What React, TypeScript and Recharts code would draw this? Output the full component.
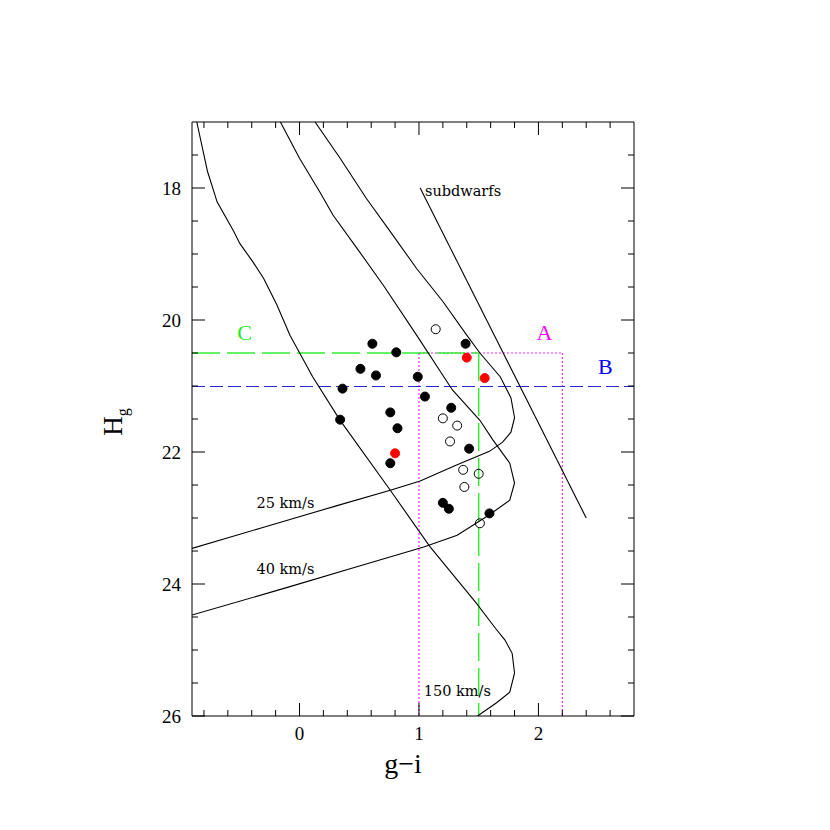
import {
  ComposedChart,
  Line,
  ReferenceLine,
  Scatter,
  XAxis,
  YAxis,
} from "recharts"

// model curves (g-i, H_g)
const curve150 = [
  { x: -0.86, y: 17.0 }, { x: -0.77, y: 17.75 }, { x: -0.69, y: 18.21 },
  { x: -0.55, y: 18.66 }, { x: -0.5, y: 18.84 }, { x: -0.39, y: 19.12 },
  { x: -0.3, y: 19.37 }, { x: -0.19, y: 19.77 }, { x: -0.08, y: 20.23 },
  { x: 0.11, y: 20.86 }, { x: 0.34, y: 21.52 }, { x: 0.76, y: 22.58 },
  { x: 1.09, y: 23.43 }, { x: 1.48, y: 24.29 }, { x: 1.64, y: 24.67 },
  { x: 1.72, y: 24.85 }, { x: 1.78, y: 25.05 }, { x: 1.8, y: 25.35 },
  { x: 1.76, y: 25.64 }, { x: 1.65, y: 25.8 }, { x: 1.49, y: 26.0 },
]
const curve40 = [
  { x: -0.16, y: 17.0 }, { x: 0.0, y: 17.55 }, { x: 0.17, y: 18.06 },
  { x: 0.28, y: 18.41 }, { x: 0.48, y: 18.91 }, { x: 0.7, y: 19.47 },
  { x: 0.98, y: 20.23 }, { x: 1.28, y: 21.06 }, { x: 1.51, y: 21.52 },
  { x: 1.62, y: 21.82 }, { x: 1.76, y: 22.17 }, { x: 1.8, y: 22.47 },
  { x: 1.76, y: 22.73 }, { x: 1.59, y: 22.95 }, { x: 1.32, y: 23.26 },
  { x: 1.04, y: 23.44 }, { x: 0.48, y: 23.74 }, { x: -0.08, y: 24.04 },
  { x: -0.9, y: 24.47 },
]
const curve25 = [
  { x: 0.13, y: 17.0 }, { x: 0.34, y: 17.55 }, { x: 0.56, y: 18.16 },
  { x: 0.76, y: 18.66 }, { x: 0.98, y: 19.22 }, { x: 1.2, y: 19.72 },
  { x: 1.4, y: 20.23 }, { x: 1.51, y: 20.5 }, { x: 1.68, y: 20.86 },
  { x: 1.77, y: 21.18 }, { x: 1.8, y: 21.48 }, { x: 1.77, y: 21.7 },
  { x: 1.7, y: 21.85 }, { x: 1.59, y: 21.99 }, { x: 1.3, y: 22.21 },
  { x: 1.01, y: 22.44 }, { x: 0.76, y: 22.58 }, { x: 0.3, y: 22.82 },
  { x: -0.3, y: 23.14 }, { x: -0.9, y: 23.46 },
]
const subdwarfs = [
  { x: 1.01, y: 18.0 },
  { x: 2.4, y: 23.0 },
]

// stars
const filled = [
  { x: 0.61, y: 20.36 }, { x: 1.39, y: 20.36 }, { x: 0.81, y: 20.49 },
  { x: 0.51, y: 20.74 }, { x: 0.64, y: 20.84 }, { x: 0.99, y: 20.86 },
  { x: 0.36, y: 21.04 }, { x: 1.05, y: 21.16 }, { x: 1.27, y: 21.33 },
  { x: 0.76, y: 21.4 }, { x: 0.34, y: 21.51 }, { x: 0.82, y: 21.64 },
  { x: 1.42, y: 21.95 }, { x: 0.76, y: 22.17 }, { x: 1.2, y: 22.77 },
  { x: 1.25, y: 22.86 }, { x: 1.59, y: 22.93 },
]
const red = [
  { x: 1.4, y: 20.57 }, { x: 1.55, y: 20.88 }, { x: 0.8, y: 22.02 },
]
const open = [
  { x: 1.14, y: 20.14 }, { x: 1.2, y: 21.49 }, { x: 1.32, y: 21.6 },
  { x: 1.26, y: 21.84 }, { x: 1.37, y: 22.27 }, { x: 1.5, y: 22.33 },
  { x: 1.38, y: 22.53 }, { x: 1.51, y: 23.08 },
]

const curveLabels = [
  { x: 1.05, y: 18.12, text: "subdwarfs" },
  { x: -0.36, y: 22.85, text: "25 km/s" },
  { x: -0.36, y: 23.85, text: "40 km/s" },
  { x: 1.04, y: 25.7, text: "150 km/s" },
]
const regionLabels = [
  { x: -0.46, y: 20.3, text: "C", color: "#22ee22" },
  { x: 2.05, y: 20.3, text: "A", color: "#ff00ff" },
  { x: 2.56, y: 20.82, text: "B", color: "#0000ff" },
]

const xTicks = [-0.8, -0.6, -0.4, -0.2, 0, 0.2, 0.4, 0.6, 0.8, 1, 1.2, 1.4, 1.6, 1.8, 2, 2.2, 2.4, 2.6]
const yTicks = [17.5, 18, 18.5, 19, 19.5, 20, 20.5, 21, 21.5, 22, 22.5, 23, 23.5, 24, 24.5, 25, 25.5, 26]

const X_DOMAIN = [-0.9, 2.8]
const Y_DOMAIN = [17, 26]
const CUT_C = 20.5
const CUT_B = 21
const GI_C = 1.5
const GI_A = [1.0, 2.2]

const tickFont = { fontFamily: "'Liberation Serif', serif", fontSize: 19, fill: "#000" }
const major = (v: number) => Math.abs(v - Math.round(v)) < 1e-6
const majorY = (v: number) => major(v) && Math.round(v) % 2 === 0

const BottomTick = ({ x, y, payload }: any) => (
  <g>
    <line x1={x} x2={x} y1={y} y2={y - (major(payload.value) ? 13 : 6)} stroke="#000" />
    {major(payload.value) && (
      <text x={x} y={y + 17} textAnchor="middle" dominantBaseline="central" {...tickFont}>
        {Math.round(payload.value)}
      </text>
    )}
  </g>
)
const TopTick = ({ x, y, payload }: any) => (
  <line x1={x} x2={x} y1={y} y2={y + (major(payload.value) ? 13 : 6)} stroke="#000" />
)
const LeftTick = ({ x, y, payload }: any) => (
  <g>
    <line x1={x} x2={x + (majorY(payload.value) ? 13 : 6)} y1={y} y2={y} stroke="#000" />
    {majorY(payload.value) && (
      <text x={x - 11} y={y} textAnchor="end" dominantBaseline="central" {...tickFont}>
        {Math.round(payload.value)}
      </text>
    )}
  </g>
)
const RightTick = ({ x, y, payload }: any) => (
  <line x1={x} x2={x - (majorY(payload.value) ? 13 : 6)} y1={y} y2={y} stroke="#000" />
)

const Dot = (fill: string, stroke: string) => (p: any) =>
  <circle cx={p.cx} cy={p.cy} r={4.5} fill={fill} stroke={stroke} strokeWidth={1} />

const CurveText = (p: any) => (
  <text x={p.cx} y={p.cy} fontFamily="'DejaVu Serif', serif" fontSize={14.5} fill="#000">
    {p.payload.text}
  </text>
)
const RegionText = (p: any) => (
  <text x={p.cx} y={p.cy} textAnchor="middle" fontFamily="'Liberation Serif', serif" fontSize={22} fill={p.payload.color}>
    {p.payload.text}
  </text>
)

export default function App() {
  const ax = { xAxisId: "b", yAxisId: "l" }
  const lineProps = { type: "linear" as const, stroke: "#000", strokeWidth: 1.1, dot: false, activeDot: false, isAnimationActive: false }
  const magenta = { stroke: "#ff22ff", strokeWidth: 1.2, strokeDasharray: "2 2" }
  const green = { stroke: "#33ee33", strokeWidth: 1.5, strokeDasharray: "28 7" }
  return (
    <div style={{ position: "absolute", left: 0, top: 0, width: 830, height: 830, background: "#fff" }}>
      <ComposedChart width={830} height={830} margin={{ top: 92, right: 136, bottom: 74, left: 132 }}>
        <XAxis
          xAxisId="b" dataKey="x" type="number" domain={X_DOMAIN} ticks={xTicks} interval={0}
          allowDataOverflow height={40} tickSize={0} tickMargin={0} tickLine={false}
          axisLine={{ stroke: "#000" }} tick={<BottomTick />}
          label={(props: any) => {
            const vb = props.viewBox
            return (
              <text x={vb.x + vb.width / 2 - 10} y={vb.y + 57} textAnchor="middle"
                fontFamily="'Liberation Serif', serif" fontSize={28} fill="#000">
                g−i
              </text>
            )
          }}
        />
        <XAxis
          xAxisId="t" orientation="top" dataKey="x" type="number" domain={X_DOMAIN} ticks={xTicks}
          interval={0} allowDataOverflow height={30} tickSize={0} tickMargin={0} tickLine={false}
          axisLine={{ stroke: "#000" }} tick={<TopTick />}
        />
        <YAxis
          yAxisId="l" dataKey="y" type="number" domain={Y_DOMAIN} reversed ticks={yTicks} interval={0}
          allowDataOverflow width={60} tickSize={0} tickMargin={0} tickLine={false}
          axisLine={{ stroke: "#000" }} tick={<LeftTick />}
          label={(props: any) => {
            const vb = props.viewBox
            const cx = 122
            const cy = vb.y + vb.height / 2 + 3
            return (
              <text transform={`rotate(-90, ${cx}, ${cy})`} x={cx} y={cy} textAnchor="middle"
                fontFamily="'Liberation Serif', serif" fontSize={27} fill="#000">
                <tspan>H</tspan>
                <tspan dy={6} fontSize={16}>g</tspan>
              </text>
            )
          }}
        />
        <YAxis
          yAxisId="r" orientation="right" dataKey="y" type="number" domain={Y_DOMAIN} reversed
          ticks={yTicks} interval={0} allowDataOverflow width={60} tickSize={0} tickMargin={0}
          tickLine={false} axisLine={{ stroke: "#000" }} tick={<RightTick />}
        />

        {/* selection cuts */}
        <ReferenceLine {...ax} {...magenta} segment={[{ x: GI_A[0], y: CUT_C }, { x: GI_A[1], y: CUT_C }]} />
        <ReferenceLine {...ax} {...magenta} segment={[{ x: GI_A[0], y: CUT_C }, { x: GI_A[0], y: 26 }]} />
        <ReferenceLine {...ax} {...magenta} segment={[{ x: GI_A[1], y: CUT_C }, { x: GI_A[1], y: 26 }]} />
        <ReferenceLine {...ax} y={CUT_B} stroke="#2828d0" strokeDasharray="13 5" shapeRendering="crispEdges" />
        <ReferenceLine {...ax} {...green} segment={[{ x: -0.9, y: CUT_C }, { x: GI_C, y: CUT_C }]} />
        <ReferenceLine {...ax} {...green} segment={[{ x: GI_C, y: CUT_C }, { x: GI_C, y: 26 }]} />

        {/* curves */}
        <Line {...ax} {...lineProps} data={curve150} dataKey="y" />
        <Line {...ax} {...lineProps} data={curve40} dataKey="y" />
        <Line {...ax} {...lineProps} data={curve25} dataKey="y" />
        <Line {...ax} {...lineProps} data={subdwarfs} dataKey="y" />

        {/* stars */}
        <Scatter {...ax} data={filled} dataKey="y" shape={Dot("#000", "#000")} isAnimationActive={false} />
        <Scatter {...ax} data={red} dataKey="y" shape={Dot("#ff0000", "#ff0000")} isAnimationActive={false} />
        <Scatter {...ax} data={open} dataKey="y" shape={Dot("none", "#000")} isAnimationActive={false} />

        {/* annotations */}
        <Scatter {...ax} data={curveLabels} dataKey="y" shape={CurveText} isAnimationActive={false} />
        <Scatter {...ax} data={regionLabels} dataKey="y" shape={RegionText} isAnimationActive={false} />
      </ComposedChart>
    </div>
  )
}
